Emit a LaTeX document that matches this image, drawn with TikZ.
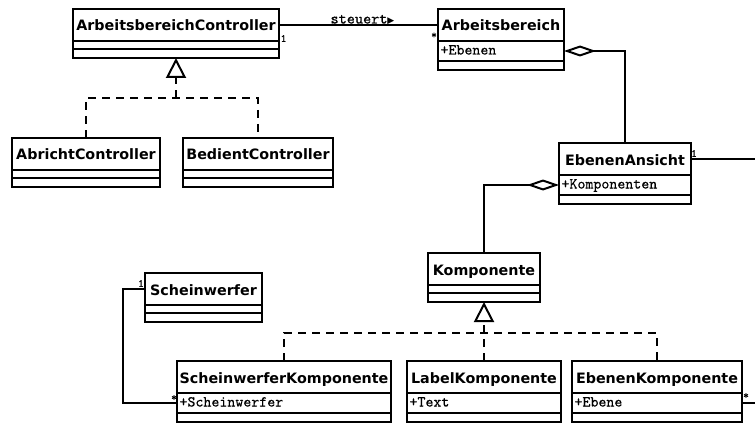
\documentclass[tikz,border=0pt]{standalone}
\usepackage{fontspec}
\newfontfamily\classfont{DejaVu Sans}
\newfontfamily\attrfont{lmmono10-regular.otf}[FakeBold=0.5]
\usetikzlibrary{arrows.meta}

\tikzset{
  umlline/.style={line width=2pt},
  umlbox/.style={draw, line width=2pt, anchor=north west, outer sep=0pt},
  classhead/.style={umlbox, inner sep=0pt,
    minimum height=32pt, text height=12pt, text depth=0pt,
    font=\classfont\bfseries\fontsize{14.3}{17}\selectfont},
  attrsec/.style={umlbox, inner xsep=2.5pt, inner ysep=0pt,
    minimum height=20pt, text height=9.5pt, text depth=2.5pt,
    font=\attrfont\fontsize{15.2}{17}\selectfont},
  emptysec/.style={umlbox, inner sep=0pt, minimum height=8pt},
  realize/.style={umlline, dash pattern=on 8pt off 6pt},
  genhead/.style={-{Triangle[open, length=20pt, width=20pt]}},
  aggtail/.style={{Diamond[open, length=32pt, width=11pt]}-},
  mult/.style={font=\attrfont\fontsize{11}{12}\selectfont, inner sep=0pt},
}

% class box: name, top-left corner, width, title, attribute (may be empty)
\newcommand\umlclass[5]{%
  \node[classhead, minimum width=#3pt] (#1) at (#2) {#4};
  \if\relax\detokenize{#5}\relax
    \node[emptysec, minimum width=#3pt] (#1-a) at (#1.south west) {};
    \node[emptysec, minimum width=#3pt, minimum height=9pt] (#1-o) at (#1-a.south west) {};
  \else
    \node[attrsec, minimum width=#3pt] (#1-a) at (#1.south west)
      {\makebox[\dimexpr#3pt-5pt\relax][l]{#5}};
    \node[emptysec, minimum width=#3pt, minimum height=9pt] (#1-o) at (#1-a.south west) {};
  \fi
}

\begin{document}
\begin{tikzpicture}[x=1pt, y=-1pt]
\useasboundingbox (0,0) rectangle (755,425);

% classes
\umlclass{ABC}{73,9}{206}{ArbeitsbereichController}{}
\umlclass{AB}{438,9}{126}{Arbeitsbereich}{+Ebenen}
\umlclass{AC}{12,138}{148}{AbrichtController}{}
\umlclass{BC}{183,138}{150}{BedientController}{}
\umlclass{EA}{559,143}{132}{EbenenAnsicht}{+Komponenten}
\umlclass{KO}{428,253}{112}{Komponente}{}
\umlclass{SW}{145,273}{117}{Scheinwerfer}{}
\umlclass{SK}{177,361}{214}{ScheinwerferKomponente}{+Scheinwerfer}
\umlclass{LK}{407,361}{154}{LabelKomponente}{+Text}
\umlclass{EK}{572,361}{170}{EbenenKomponente}{+Ebene}

% helper points
\coordinate (j1) at (176,98);
\coordinate (j2) at (484,333);
\coordinate (rim) at (760,0);

% association "steuert"
\draw[umlline] (ABC.east) -- (AB.west)
  node[pos=0.525, anchor=base, yshift=1.5pt, inner sep=0pt, font=\attrfont\fontsize{15.5}{17}\selectfont] (lbl)
  {steuert{\classfont\fontsize{9}{10}\selectfont ▶}};
\node[mult] (m1) at (283.5,38.5) {1};
\node[mult] (m2) at (434,35.5) {*};

% realizations of ArbeitsbereichController
\draw[realize] (AC.north) |- (j1) -| (BC.north);
\draw[realize, genhead] (j1) -- (ABC-o.south);

% aggregations
\draw[umlline, aggtail] (AB-a.east) -| (EA.north);
\draw[umlline, aggtail] (EA-a.west) -| (KO.north);

% outgoing associations
\draw[umlline] (EA.east) -- (EA.east -| rim);
\node[mult] (m3) at (694,153.5) {1};
\draw[umlline] (EK-a.east) -- (EK-a.east -| rim);
\node[mult] (m4) at (746,396) {*};

% realizations of Komponente
\draw[realize] (SK.north) |- (j2) -| (EK.north);
\draw[realize] (LK.north) -- (j2);
\draw[realize, genhead] (j2) -- (KO-o.south);

% Scheinwerfer association
\draw[umlline] (SW.west) -- ++(-22,0) |- (SK-a.west);
\node[mult] (m5) at (141,283.5) {1};
\node[mult] (m6) at (174,398) {*};
\end{tikzpicture}
\end{document}
